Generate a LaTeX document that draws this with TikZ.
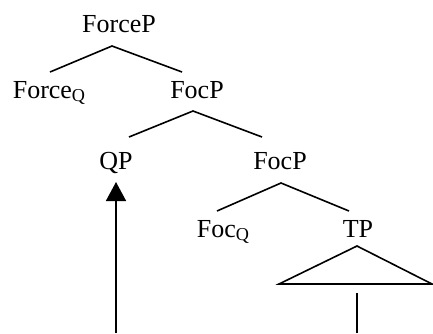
\documentclass[tikz,border=0pt]{standalone}
\usepackage{fontspec}
\setmainfont{Liberation Serif}
\usepackage{tikz}
\usetikzlibrary{arrows.meta}

\begin{document}
\begin{tikzpicture}[x=1pt,y=-1pt,line width=1.6pt, every node/.style={inner sep=0pt,anchor=base,font=\fontsize{26}{30}\selectfont}]
\useasboundingbox (0,0) rectangle (433,333);
% labels
\node (forcep) at (119,32) {ForceP};
\node[anchor=base west] (forceq) at (12,98) {Force\textsubscript{Q}};
\node (focp) at (197,98) {FocP};
\node (qp) at (116,169) {QP};
\node (focpb) at (280,169) {FocP};
\node[anchor=base west] (focq) at (196,237) {Foc\textsubscript{Q}};
\node (tp) at (358,237) {TP};
% branch ends
\coordinate (a0) at (112,46); \coordinate (a1) at (50,72); \coordinate (a2) at (182,72);
\coordinate (b0) at (193,111); \coordinate (b1) at (129,137); \coordinate (b2) at (262,137);
\coordinate (c0) at (281,183); \coordinate (c1) at (217,211); \coordinate (c2) at (349,211);
\coordinate (t0) at (357,246); \coordinate (t1) at (279,284); \coordinate (t2) at (432,284);
\coordinate (v0) at (357,293); \coordinate (v1) at (357,333);
\coordinate (m0) at (116,333); \coordinate (m1) at (116,182);
\draw (a1)--(a0)--(a2);
\draw (b1)--(b0)--(b2);
\draw (c1)--(c0)--(c2);
\draw[line join=miter] (t0)--(t1)--(t2)--cycle;
\draw (v0)--(v1);
\draw[-{Triangle[length=19pt,width=20pt]}] (m0)--(m1);
\end{tikzpicture}
\end{document}
